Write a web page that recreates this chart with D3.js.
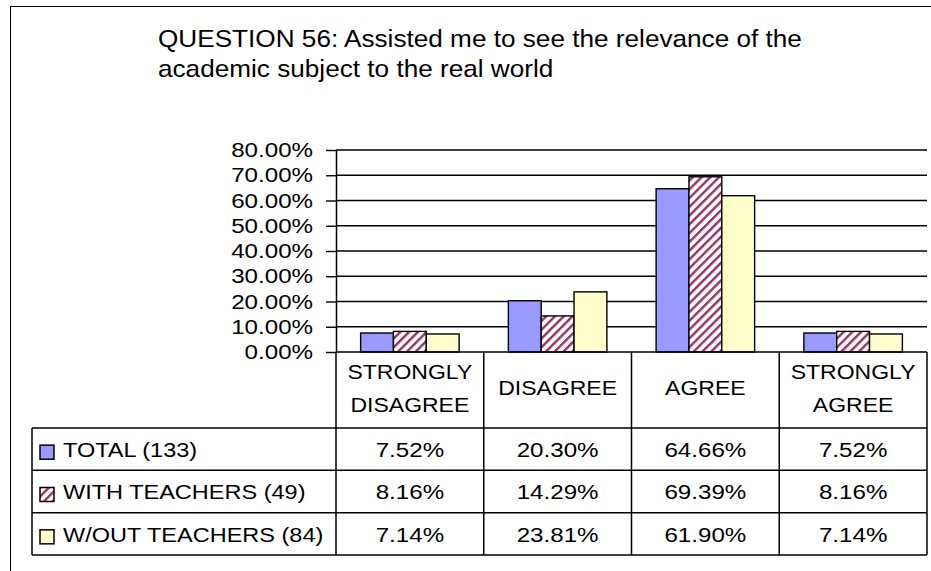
<!DOCTYPE html>
<html>
<head>
<meta charset="utf-8">
<script src="https://cdn.jsdelivr.net/npm/d3@7"></script>
<style>
body { margin: 0; background: #fff; }
text { font-family: "Liberation Sans", Arial, sans-serif; fill: #000; }
</style>
</head>
<body>
<script>
// chart data
var titleLines = ["QUESTION 56: Assisted me to see the relevance of the", "academic subject to the real world"];
var categories = ["STRONGLY DISAGREE", "DISAGREE", "AGREE", "STRONGLY AGREE"];
var series = ["TOTAL (133)", "WITH TEACHERS (49)", "W/OUT TEACHERS (84)"];
var total = [0.0752, 0.2030, 0.6466, 0.0752];
var withTeachers = [0.0816, 0.1429, 0.6939, 0.0816];
var withoutTeachers = [0.0714, 0.2381, 0.6190, 0.0714];
var yTicks = [0, 0.1, 0.2, 0.3, 0.4, 0.5, 0.6, 0.7, 0.8];

var values = [total, withTeachers, withoutTeachers];
var colors = ["#9999FF", "url(#hatch)", "#FFFFCC"];

var svg = d3.select("body").append("svg")
  .attr("width", 931)
  .attr("height", 571);

// hatch pattern for the second series
var pat = svg.append("defs").append("pattern")
  .attr("id", "hatch")
  .attr("patternUnits", "userSpaceOnUse")
  .attr("width", 6.2)
  .attr("height", 6.2)
  .attr("patternTransform", "rotate(45)");
pat.append("rect").attr("width", 6.2).attr("height", 6.2).attr("fill", "#fff");
pat.append("rect").attr("width", 2.4).attr("height", 6.2).attr("fill", "#993366");

// outer chart border
svg.append("rect")
  .attr("x", 10.5).attr("y", 6.5)
  .attr("width", 1000).attr("height", 1000)
  .attr("fill", "none").attr("stroke", "#000").attr("stroke-width", 1);

// text helper, glyphs a bit wider like the original renderer
function txt(g, x, y, s, anchor, size, sx) {
  return g.append("text")
    .attr("transform", "translate(" + x + "," + y + ") scale(" + sx + ",1)")
    .attr("text-anchor", anchor)
    .style("font-size", size + "px")
    .text(s);
}

// title
titleLines.forEach(function(t, i) {
  txt(svg, 158, 47 + i * 30, t, "start", 24, 1.09);
});

// scales
var x0 = d3.scaleBand().domain(categories).range([336, 927]).paddingInner(0).paddingOuter(0);
var x1 = d3.scaleBand().domain(series).range([0, x0.bandwidth()]).paddingInner(0).paddingOuter(0.75);
var y = d3.scaleLinear().domain([0, 0.8]).range([352, 150]);

// gridlines
svg.append("g").selectAll("line")
  .data(yTicks.slice(1))
  .enter().append("line")
  .attr("x1", 336).attr("x2", 927)
  .attr("y1", function(d) { return y(d); })
  .attr("y2", function(d) { return y(d); })
  .attr("stroke", "#000").attr("stroke-width", 1.4);

// bars
var groups = svg.append("g").selectAll("g")
  .data(categories)
  .enter().append("g")
  .attr("transform", function(d) { return "translate(" + x0(d) + ",0)"; });

groups.selectAll("rect")
  .data(function(d, i) {
    return series.map(function(s, j) { return { s: s, j: j, v: values[j][i] }; });
  })
  .enter().append("rect")
  .attr("x", function(d) { return x1(d.s); })
  .attr("width", x1.bandwidth())
  .attr("y", function(d) { return y(d.v); })
  .attr("height", function(d) { return y(0) - y(d.v); })
  .attr("fill", function(d) { return colors[d.j]; })
  .attr("stroke", "#000")
  .attr("stroke-width", 1.4);

// y axis
var yAxis = svg.append("g")
  .attr("transform", "translate(336,0)")
  .call(d3.axisLeft(y).tickValues(yTicks).tickFormat(d3.format(".2%")).tickSize(10).tickSizeOuter(0));
yAxis.attr("font-family", null).attr("font-size", null);
yAxis.select(".domain").attr("stroke", "#000").attr("stroke-width", 1.5);
yAxis.selectAll(".tick line").attr("stroke", "#000").attr("stroke-width", 1.4);
yAxis.selectAll(".tick text")
  .attr("x", -20)
  .attr("dy", "0.32em")
  .attr("transform", "scale(1.15,1)")
  .style("font-size", "21px");

// data table
var tableTop = 428, rowH = 42.33, tableBottom = tableTop + rowH * series.length;
var table = svg.append("g").attr("stroke", "#000").attr("stroke-width", 1.5);
table.append("line").attr("x1", 336).attr("x2", 927).attr("y1", 352).attr("y2", 352);
d3.range(series.length + 1).forEach(function(i) {
  table.append("line")
    .attr("x1", 32).attr("x2", 927)
    .attr("y1", tableTop + i * rowH).attr("y2", tableTop + i * rowH);
});
categories.forEach(function(c) {
  table.append("line").attr("x1", x0(c)).attr("x2", x0(c)).attr("y1", 352).attr("y2", tableBottom);
});
table.append("line").attr("x1", 927).attr("x2", 927).attr("y1", 352).attr("y2", tableBottom);
table.append("line").attr("x1", 32).attr("x2", 32).attr("y1", tableTop).attr("y2", tableBottom);

// category headers
categories.forEach(function(c) {
  var cx = x0(c) + x0.bandwidth() / 2;
  var words = c.split(" ");
  if (words.length > 1) {
    txt(svg, cx, 379, words[0], "middle", 20, 1.15);
    txt(svg, cx, 412, words.slice(1).join(" "), "middle", 20, 1.15);
  } else {
    txt(svg, cx, 395, c, "middle", 20, 1.15);
  }
});

// legend column and values
var fmt = d3.format(".2%");
series.forEach(function(s, j) {
  var base = tableTop + j * rowH + rowH / 2 + 8;
  svg.append("rect")
    .attr("x", 40).attr("y", base - 12)
    .attr("width", 14).attr("height", 14)
    .attr("fill", colors[j]).attr("stroke", "#000").attr("stroke-width", 1.5);
  txt(svg, 63, base, s, "start", 21, 1.12);
  categories.forEach(function(c, i) {
    txt(svg, x0(c) + x0.bandwidth() / 2, base, fmt(values[j][i]), "middle", 21, 1.15);
  });
});
</script>
</body>
</html>
